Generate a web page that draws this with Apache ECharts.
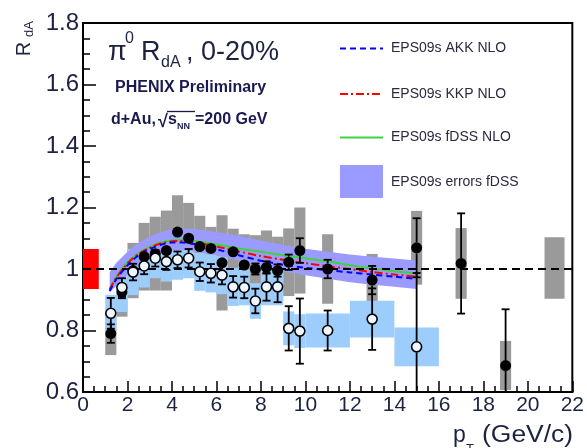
<!DOCTYPE html>
<html>
<head>
<meta charset="utf-8">
<script src="https://cdn.jsdelivr.net/npm/echarts@6/dist/echarts.min.js"></script>
<style>
  html, body { margin: 0; padding: 0; background: #fff; }
  #chart { width: 587px; height: 448px; }
</style>
</head>
<body>
<div id="chart"></div>
<script>
// pi0 R_dA, d+Au 0-20% central, with EPS09s NLO calculations

// Filled points (with gray systematic boxes)
const ptFilled   = [1.25, 1.75, 2.25, 2.75, 3.25, 3.75, 4.25, 4.75, 5.25, 5.75, 6.25, 6.75, 7.25, 7.75, 8.25, 8.75, 9.25, 9.75, 11, 13, 15, 17, 19];
const rdaFilled  = [0.79, 0.925, 0.995, 1.04, 1.05, 1.06, 1.12, 1.10, 1.073, 1.067, 1.02, 1.056, 1.013, 1.0, 1.005, 0.995, 1.022, 1.06, 1.0, 0.964, 1.069, 1.018, 0.686];
const statFilled = [0.03, 0.02, 0.015, 0.015, 0.012, 0.012, 0.012, 0.012, 0.012, 0.012, 0.015, 0.015, 0.015, 0.018, 0.02, 0.02, 0.025, 0.04, 0.03, 0.046, 0.096, 0.163, 0.183];
const sysFilled  = [0.07, 0.08, 0.09, 0.11, 0.12, 0.13, 0.12, 0.115, 0.10, 0.07, 0.155, 0.075, 0.10, 0.11, 0.12, 0.11, 0.11, 0.14, 0.113, 0.085, 0.12, 0.115, 0.08];
const binFilled  = [0.25, 0.25, 0.25, 0.25, 0.25, 0.25, 0.25, 0.25, 0.25, 0.25, 0.25, 0.25, 0.25, 0.25, 0.25, 0.25, 0.25, 0.25, 0.25, 0.25, 0.25, 0.25, 0.25];
// systematic box drawn without a visible point
const ptExtraBox  = [21.2];
const rdaExtraBox = [1.003];
const sysExtraBox = [0.10];
const binExtraBox = [0.45];

// Open points (with light-blue systematic boxes)
const ptOpen   = [1.25, 1.75, 2.25, 2.75, 3.25, 3.75, 4.25, 4.75, 5.25, 5.75, 6.25, 6.75, 7.25, 7.75, 8.25, 8.75, 9.25, 9.75, 11, 13, 15];
const rdaOpen  = [0.856, 0.94, 0.99, 1.01, 1.035, 1.024, 1.03, 1.035, 0.991, 0.986, 0.98, 0.942, 0.94, 0.896, 0.942, 0.942, 0.807, 0.798, 0.80, 0.837, 0.747];
const statOpen = [0.05, 0.03, 0.027, 0.027, 0.027, 0.027, 0.027, 0.03, 0.03, 0.03, 0.03, 0.035, 0.035, 0.04, 0.045, 0.05, 0.072, 0.106, 0.065, 0.10, 0.24];
const sysOpen  = [0.06, 0.08, 0.075, 0.07, 0.065, 0.065, 0.065, 0.065, 0.062, 0.062, 0.062, 0.062, 0.058, 0.058, 0.06, 0.06, 0.055, 0.055, 0.055, 0.06, 0.063];
const binOpen  = [0.25, 0.25, 0.25, 0.25, 0.25, 0.25, 0.25, 0.25, 0.25, 0.25, 0.25, 0.25, 0.25, 0.25, 0.25, 0.25, 0.25, 0.25, 1.0, 1.0, 1.0];

// Global normalization uncertainty
const normCenter = [0.35, 1.0];
const normHalf   = [0.36, 0.065];

// EPS09s NLO calculations
const ptTheory  = [1.2, 1.5, 2.0, 2.5, 3.0, 3.5, 4.0, 4.5, 5.0, 6.0, 7.0, 8.0, 9.0, 10, 11, 12, 13, 14, 15];
const rdaFDSS   = [0.935, 0.975, 1.022, 1.052, 1.072, 1.086, 1.093, 1.094, 1.091, 1.08, 1.067, 1.056, 1.045, 1.035, 1.025, 1.012, 1.002, 0.993, 0.985];
const rdaKKP    = [0.932, 0.972, 1.018, 1.049, 1.069, 1.083, 1.09, 1.091, 1.087, 1.073, 1.057, 1.042, 1.03, 1.019, 1.009, 1.0, 0.99, 0.982, 0.975];
const rdaAKK    = [0.928, 0.967, 1.012, 1.045, 1.065, 1.079, 1.086, 1.086, 1.081, 1.064, 1.045, 1.027, 1.014, 1.004, 0.996, 0.989, 0.982, 0.975, 0.968];
const bandLow   = [0.925, 0.945, 0.982, 1.012, 1.035, 1.05, 1.06, 1.062, 1.058, 1.045, 1.028, 1.008, 0.993, 0.98, 0.968, 0.957, 0.949, 0.942, 0.935];
const bandHigh  = [0.99, 1.02, 1.056, 1.085, 1.105, 1.12, 1.13, 1.132, 1.13, 1.12, 1.108, 1.093, 1.078, 1.066, 1.056, 1.047, 1.04, 1.034, 1.028];

const unityLine = [[0, 1], [22, 1]];

// Axis ranges and ticks
const xRange = [0, 22], xStep = 2;
const yRange = [0.6, 1.8], yStep = 0.2;

const FONT = '"Liberation Sans", Arial, Helvetica, sans-serif';
const INK = '#1c2240';
const LABEL_INK = '#1a1a50';
const MARK_R = 5.5;

const chart = echarts.init(document.getElementById('chart'), null, { renderer: 'canvas' });

function clampY(v) { return Math.min(Math.max(v, yRange[0]), yRange[1]); }

function boxSeries(name, xs, ys, hw, hh, color, z) {
  return {
    type: 'custom', name: name, z: z, silent: true, animation: false,
    data: xs.map((x, i) => [x, ys[i], hw[i], hh[i]]),
    encode: { x: 0, y: 1 },
    renderItem: function (params, api) {
      const x = api.value(0), y = api.value(1), w = api.value(2), h = api.value(3);
      const a = api.coord([Math.max(x - w, xRange[0]), clampY(y + h)]);
      const b = api.coord([Math.min(x + w, xRange[1]), clampY(y - h)]);
      return { type: 'rect', shape: { x: a[0], y: a[1], width: b[0] - a[0], height: b[1] - a[1] }, style: { fill: color } };
    }
  };
}

function errorSeries(name, xs, ys, es, z) {
  return {
    type: 'custom', name: name, z: z, silent: true, animation: false,
    data: xs.map((x, i) => [x, ys[i], es[i]]),
    encode: { x: 0, y: 1 },
    renderItem: function (params, api) {
      const x = api.value(0), y = api.value(1), e = api.value(2);
      const c = api.coord([x, y]);
      const hi = y + e, lo = y - e;
      const t = api.coord([x, clampY(hi)]);
      const b = api.coord([x, clampY(lo)]);
      const st = { stroke: '#000', lineWidth: 1.8 };
      const kids = [];
      if (c[1] - MARK_R > t[1]) kids.push({ type: 'line', shape: { x1: c[0], y1: c[1] - MARK_R, x2: t[0], y2: t[1] }, style: st });
      if (b[1] > c[1] + MARK_R) kids.push({ type: 'line', shape: { x1: c[0], y1: c[1] + MARK_R, x2: b[0], y2: b[1] }, style: st });
      if (hi <= yRange[1] && t[1] < c[1] - MARK_R) kids.push({ type: 'line', shape: { x1: t[0] - 4, y1: t[1], x2: t[0] + 4, y2: t[1] }, style: st });
      if (lo >= yRange[0] && b[1] > c[1] + MARK_R) kids.push({ type: 'line', shape: { x1: b[0] - 4, y1: b[1], x2: b[0] + 4, y2: b[1] }, style: st });
      return { type: 'group', children: kids };
    }
  };
}

const bandSeries = {
  type: 'custom', name: 'EPS09s errors fDSS', z: 3, silent: true, animation: false,
  data: ptTheory.map((x, i) => [x, bandLow[i], bandHigh[i]]),
  encode: { x: 0, y: [1, 2] },
  renderItem: function (params, api) {
    if (params.dataIndex !== 0) return null;
    const pts = [];
    for (let i = 0; i < ptTheory.length; i++) pts.push(api.coord([ptTheory[i], bandHigh[i]]));
    for (let i = ptTheory.length - 1; i >= 0; i--) pts.push(api.coord([ptTheory[i], bandLow[i]]));
    return { type: 'polygon', shape: { points: pts }, style: { fill: '#9b9bff' } };
  }
};

function curve(name, ys, color, dash) {
  return {
    type: 'line', name: name, z: 4, silent: true, animation: false,
    data: ptTheory.map((x, i) => [x, ys[i]]),
    symbol: 'none', smooth: 0.3,
    lineStyle: { color: color, width: 2, type: dash }
  };
}

function label(x, y, text, font, fill, extra) {
  return Object.assign({ type: 'text', z: 100, x: x, y: y, style: { x: 0, y: 0, text: text, font: font + ' ' + FONT, fill: fill, textVerticalAlign: 'middle' } }, extra || {});
}

const axisText = { fontFamily: FONT, color: INK };

const option = {
  animation: false,
  backgroundColor: '#fff',
  grid: { left: 83, right: 10, top: 23, bottom: 56, show: true, borderColor: '#000', borderWidth: 2, backgroundColor: 'transparent' },
  xAxis: {
    type: 'value', min: xRange[0], max: xRange[1], interval: xStep,
    axisLine: { lineStyle: { color: '#000', width: 2 } },
    axisTick: { inside: true, length: 11, lineStyle: { color: '#000', width: 1.5 } },
    minorTick: { show: true, splitNumber: 4, length: 6, lineStyle: { color: '#000', width: 1.5 } },
    splitLine: { show: false },
    axisLabel: Object.assign({ fontSize: 21, margin: 3 }, axisText)
  },
  yAxis: {
    type: 'value', min: yRange[0], max: yRange[1], interval: yStep,
    axisLine: { lineStyle: { color: '#000', width: 2 } },
    axisTick: { inside: true, length: 13, lineStyle: { color: '#000', width: 1.5 } },
    minorTick: { show: true, splitNumber: 4, length: 7, lineStyle: { color: '#000', width: 1.5 } },
    splitLine: { show: false },
    axisLabel: Object.assign({ fontSize: 24, margin: 4, formatter: v => String(Math.round(v * 10) / 10) }, axisText)
  },
  series: [
    boxSeries('sys filled', ptFilled, rdaFilled, binFilled, sysFilled, '#9a9a9a', 1),
    boxSeries('sys extra', ptExtraBox, rdaExtraBox, binExtraBox, sysExtraBox, '#9a9a9a', 1),
    boxSeries('sys open', ptOpen, rdaOpen, binOpen, sysOpen, '#9ccdfc', 2),
    boxSeries('normalization', [normCenter[0]], [normCenter[1]], [normHalf[0]], [normHalf[1]], '#ff0000', 2),
    bandSeries,
    curve('EPS09s fDSS NLO', rdaFDSS, '#3fd23f', 'solid'),
    curve('EPS09s KKP NLO', rdaKKP, '#ff0000', [8, 3, 2, 3]),
    curve('EPS09s AKK NLO', rdaAKK, '#0000ff', [6, 4]),
    {
      type: 'line', name: 'unity', z: 5, silent: true, animation: false,
      data: unityLine, symbol: 'none',
      lineStyle: { color: '#000', width: 2, type: [8, 5] }
    },
    errorSeries('stat filled', ptFilled, rdaFilled, statFilled, 6),
    errorSeries('stat open', ptOpen, rdaOpen, statOpen, 6),
    {
      type: 'scatter', name: 'filled', z: 7, silent: true, animation: false,
      data: ptFilled.map((x, i) => [x, rdaFilled[i]]),
      symbol: 'circle', symbolSize: MARK_R * 2,
      itemStyle: { color: '#000', opacity: 1 }
    },
    {
      type: 'scatter', name: 'open', z: 7, silent: true, animation: false,
      data: ptOpen.map((x, i) => [x, rdaOpen[i]]),
      symbol: 'circle', symbolSize: MARK_R * 2 - 1,
      itemStyle: { color: '#eef6ff', borderColor: '#000', borderWidth: 1.6, opacity: 1 }
    }
  ],
  graphic: [
    // title
    label(108, 53, 'π', '27px', INK),
    label(125, 39, '0', '16px', INK),
    label(141, 53, 'R', '27px', INK),
    label(161, 63, 'dA', '16px', INK),
    label(186, 53, ', 0-20%', '27px', INK),
    label(115, 88, 'PHENIX Preliminary', 'bold 16px', LABEL_INK),
    label(111, 120, 'd+Au,', 'bold 16px', LABEL_INK),
    label(158, 122, '√', 'bold 18px', LABEL_INK),
    { type: 'line', z: 100, shape: { x1: 167, y1: 111.5, x2: 195, y2: 111.5 }, style: { stroke: LABEL_INK, lineWidth: 1.3 } },
    label(168, 120, 's', 'bold 16px', LABEL_INK),
    label(177, 127, 'NN', 'bold 9px', LABEL_INK),
    label(195, 120, '=200 GeV', 'bold 16px', LABEL_INK),
    // legend
    { type: 'line', z: 100, shape: { x1: 340, y1: 48.5, x2: 383, y2: 48.5 }, style: { stroke: '#0000ff', lineWidth: 2, lineDash: [6, 4] } },
    label(391, 48.5, 'EPS09s AKK NLO', '14px', '#2a2a40'),
    { type: 'line', z: 100, shape: { x1: 340, y1: 94, x2: 383, y2: 94 }, style: { stroke: '#ff0000', lineWidth: 2, lineDash: [8, 3, 2, 3] } },
    label(391, 94, 'EPS09s KKP NLO', '14px', '#2a2a40'),
    { type: 'line', z: 100, shape: { x1: 340, y1: 137.5, x2: 383, y2: 137.5 }, style: { stroke: '#3fd23f', lineWidth: 2 } },
    label(391, 137.5, 'EPS09s fDSS NLO', '14px', '#2a2a40'),
    { type: 'rect', z: 100, shape: { x: 340, y: 165, width: 43, height: 33 }, style: { fill: '#9b9bff' } },
    label(391, 182, 'EPS09s errors fDSS', '14px', '#2a2a40'),
    // axis titles
    { type: 'text', z: 100, x: 24, y: 49, rotation: Math.PI / 2, style: { x: 0, y: 0, text: 'R', font: '20px ' + FONT, fill: INK, textAlign: 'center', textVerticalAlign: 'middle' } },
    { type: 'text', z: 100, x: 29, y: 29, rotation: Math.PI / 2, style: { x: 0, y: 0, text: 'dA', font: '13px ' + FONT, fill: INK, textAlign: 'center', textVerticalAlign: 'middle' } },
    label(453, 436, 'p', '23px', INK),
    label(466, 449, 'T', '13px', INK),
    label(482, 436, '(GeV/c)', '23px', INK, { scaleX: 1.15 })
  ]
};

chart.setOption(option);
</script>
</body>
</html>
